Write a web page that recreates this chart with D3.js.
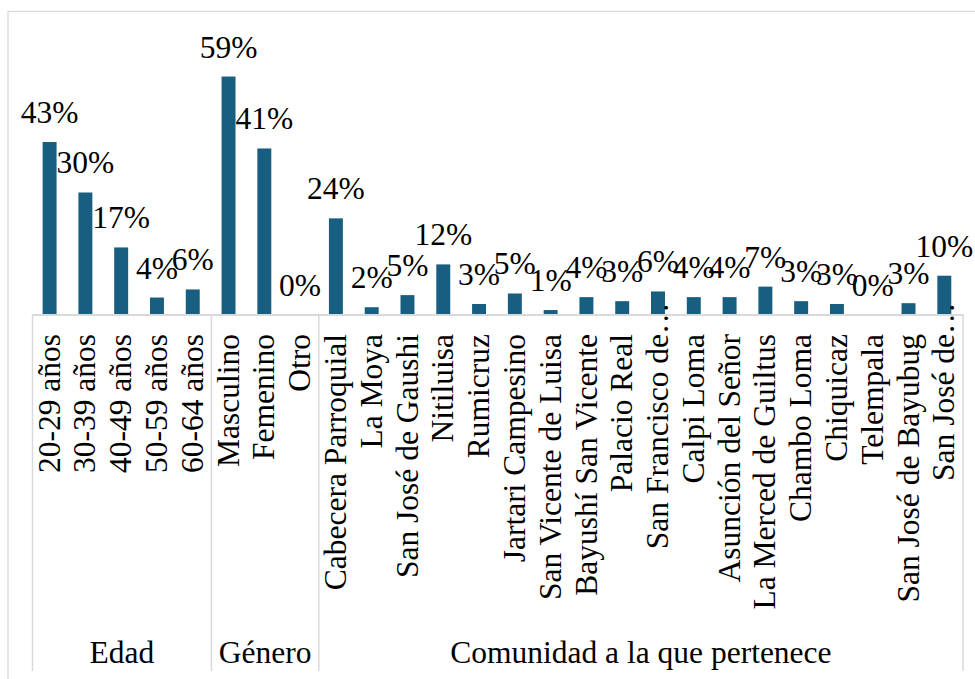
<!DOCTYPE html>
<html>
<head>
<meta charset="utf-8">
<script src="https://cdn.jsdelivr.net/npm/d3@7"></script>
</head>
<body style="margin:0">
<svg id="chart" width="975" height="679"></svg>
<script>
// values in percent
const groupNames = ["Edad", "Género", "Comunidad a la que pertenece"];

const edadCats = ["20-29 años", "30-39 años", "40-49 años", "50-59 años", "60-64 años"];
const edadValues = [42.7, 30.2, 16.6, 4.2, 6.2];

const generoCats = ["Masculino", "Femenino", "Otro"];
const generoValues = [58.9, 41.1, 0];

const comunidadCats = [
    "Cabecera Parroquial", "La Moya", "San José de Gaushi", "Nitiluisa", "Rumicruz",
    "Jartari Campesino", "San Vicente de Luisa", "Bayushí San Vicente", "Palacio Real",
    "San Francisco de…", "Calpi Loma", "Asunción del Señor", "La Merced de Guiltus",
    "Chambo Loma", "Chiquicaz", "Telempala", "San José de Bayubug", "San José de…"
];
const comunidadValues = [23.8, 1.8, 4.8, 12.4, 2.6, 5.2, 1.1, 4.3, 3.3, 5.7, 4.3, 4.3, 6.9, 3.3, 2.6, 0, 2.8, 9.6];

const font = "Liberation Serif";
const fontSize = 31.5;

const groups = [
    { name: groupNames[0], cats: edadCats, values: edadValues },
    { name: groupNames[1], cats: generoCats, values: generoValues },
    { name: groupNames[2], cats: comunidadCats, values: comunidadValues }
];

const rows = [];
groups.forEach((g, gi) => {
    g.start = rows.length;
    g.cats.forEach((c, i) => rows.push({ key: gi + "|" + c, name: c, value: g.values[i] / 100 }));
    g.end = rows.length;
});
const nameOf = new Map(rows.map(d => [d.key, d.name]));

const baseline = 314.5;
const left = 32.5, right = 963;
const bottom = 671;

const x = d3.scaleBand()
    .domain(rows.map(d => d.key))
    .range([left, right])
    .paddingInner(0.61)
    .paddingOuter(0.305);

const y = d3.scaleLinear()
    .domain([0, 0.6])
    .range([baseline, baseline - 0.6 * 404]);

const svg = d3.select("#chart");

// chart area frame (runs past the right and bottom edges)
svg.append("rect")
    .attr("x", 8)
    .attr("y", 11.5)
    .attr("width", 1000)
    .attr("height", 700)
    .attr("fill", "none")
    .attr("stroke", "#d9d9d9")
    .attr("stroke-width", 1.3);

// bars
svg.append("g")
    .selectAll("rect")
    .data(rows)
    .join("rect")
    .attr("x", d => x(d.key) - 0.8)
    .attr("y", d => y(d.value))
    .attr("width", x.bandwidth())
    .attr("height", d => baseline - y(d.value))
    .attr("fill", "#175e81");

// data labels
svg.append("g")
    .selectAll("text")
    .data(rows)
    .join("text")
    .attr("x", d => x(d.key) + x.bandwidth() / 2 - 0.8)
    .attr("y", d => y(d.value) - 19)
    .attr("fill", "#000")
    .attr("text-anchor", "middle")
    .attr("font-size", fontSize)
    .style("font-family", font)
    .text(d => d3.format(".0%")(d.value));

// category axis
const axis = svg.append("g")
    .attr("transform", `translate(-0.8,${baseline})`)
    .call(d3.axisBottom(x).tickSize(0).tickFormat(k => nameOf.get(k).replace("…", "")));

axis.select(".domain").remove();
axis.attr("font-size", fontSize).attr("font-family", font);
axis.selectAll(".tick text")
    .attr("fill", "#000")
    .attr("transform", "rotate(-90)")
    .attr("x", -19.5)
    .attr("y", 0)
    .attr("dy", "0.32em")
    .style("text-anchor", "end")
    .style("font-family", font);

// truncated labels: Excel lets the ellipsis spill past the label box
axis.selectAll(".tick")
    .filter(k => nameOf.get(k).endsWith("…"))
    .append("text")
    .attr("fill", "#000")
    .attr("transform", "rotate(-90)")
    .attr("x", -19.5)
    .attr("y", 0)
    .attr("dy", "0.32em")
    .style("text-anchor", "start")
    .style("font-family", font)
    .text("…");

// axis line and group dividers
const lines = svg.append("g")
    .attr("stroke", "#d9d9d9")
    .attr("fill", "none");

lines.append("line")
    .attr("x1", left).attr("x2", right)
    .attr("y1", baseline + 0.5).attr("y2", baseline + 0.5)
    .attr("stroke-width", 2);

const edges = [0].concat(groups.map(g => g.end));
lines.selectAll(".divider")
    .data(edges)
    .join("line")
    .attr("class", "divider")
    .attr("x1", i => left + i * x.step())
    .attr("x2", i => left + i * x.step())
    .attr("y1", baseline)
    .attr("y2", bottom)
    .attr("stroke-width", 1.5);

// group labels
svg.append("g")
    .selectAll("text")
    .data(groups)
    .join("text")
    .attr("x", g => left + (g.start + g.end) / 2 * x.step())
    .attr("y", 663)
    .attr("fill", "#000")
    .attr("text-anchor", "middle")
    .attr("font-size", fontSize)
    .style("font-family", font)
    .text(g => g.name);
</script>
</body>
</html>
